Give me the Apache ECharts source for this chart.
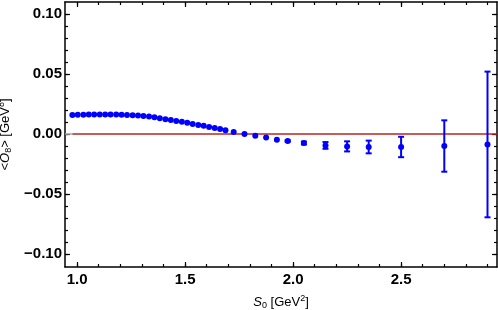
<!DOCTYPE html>
<html>
<head>
<meta charset="utf-8">
<script src="https://cdn.jsdelivr.net/npm/echarts@6/dist/echarts.min.js"></script>
<style>html,body{margin:0;padding:0;background:#fff;}#c{width:498px;height:310px;}</style>
</head>
<body>
<div id="c"></div>
<script>
// S0 values [GeV^2]
const sVals = [0.978,1.003,1.029,1.054,1.079,1.105,1.130,1.155,1.181,1.206,1.231,1.257,1.282,1.307,1.333,1.358,1.383,1.409,1.434,1.459,1.485,1.510,1.535,1.561,1.586,1.611,1.637,1.662,1.687,1.725,1.775,1.825,1.875,1.925,1.975,2.05,2.15,2.25,2.35,2.5,2.7,2.9];
// <O8> values [GeV^8]
const oVals = [0.0158,0.0160,0.0161,0.0162,0.0163,0.0163,0.0163,0.0163,0.0162,0.0161,0.0159,0.0157,0.0154,0.0151,0.0147,0.0140,0.0132,0.0124,0.0117,0.0109,0.0102,0.0093,0.0084,0.0076,0.0068,0.0059,0.0050,0.0041,0.0031,0.0017,0.0000,-0.0015,-0.0030,-0.0048,-0.0058,-0.0075,-0.0095,-0.0103,-0.0108,-0.0108,-0.0100,-0.0087];
// symmetric errors
const oErr = [0,0,0,0,0,0,0,0,0,0,0,0,0,0,0,0,0,0,0,0,0,0,0,0,0,0,0,0,0,0,0,0,0,0,0.0006,0.0012,0.0028,0.0042,0.0053,0.0085,0.0214,0.0607];
const xMajor = [1.0,1.5,2.0,2.5];
const xMinor = [1.0,1.1,1.2,1.3,1.4,1.5,1.6,1.7,1.8,1.9,2.0,2.1,2.2,2.3,2.4,2.5,2.6,2.7,2.8,2.9];
const yMajor = [-0.10,-0.05,0.00,0.05,0.10];
const yMinor = [-0.10,-0.09,-0.08,-0.07,-0.06,-0.05,-0.04,-0.03,-0.02,-0.01,0.00,0.01,0.02,0.03,0.04,0.05,0.06,0.07,0.08,0.09,0.10];
const xRange = [0.944, 2.944];
const yRange = [-0.1108, 0.11];
const refStart = 0.978;

const chart = echarts.init(document.getElementById('c'));
const FONT = '"Liberation Sans", Arial, sans-serif';
const fmtX = v => v.toFixed(1);
const fmtY = v => (Math.abs(v) < 1e-9 ? '0.00' : (v < 0 ? '\u2212' + Math.abs(v).toFixed(2) : v.toFixed(2)));
const richName = {
  it: { fontSize: 13, fontStyle: 'italic', fontFamily: FONT },
  sub: { fontSize: 9, verticalAlign: 'bottom', padding: [7,0,0,0], fontFamily: FONT },
  sup: { fontSize: 9, verticalAlign: 'top', padding: [0,0,6,0], fontFamily: FONT }
};

function xAx(pos, major, showLabel, name) {
  return {
    type: 'value', position: pos, min: xRange[0], max: xRange[1],
    axisLine: { show: major, onZero: false, lineStyle: { color: '#000', width: 1.5 } },
    axisTick: { show: true, inside: true, length: major ? 5 : 3, customValues: major ? xMajor : xMinor, lineStyle: { color: '#000', width: 1.2 } },
    axisLabel: { show: showLabel, customValues: xMajor, formatter: fmtX, color: '#000', fontFamily: FONT, fontWeight: 'bold', fontSize: 15, margin: 5 },
    splitLine: { show: false },
    name: name || '', nameLocation: 'middle', nameGap: 27,
    nameTextStyle: name ? { color: '#000', fontFamily: FONT, fontSize: 13, rich: richName } : {}
  };
}
function yAx(pos, major, showLabel, name) {
  return {
    type: 'value', position: pos, min: yRange[0], max: yRange[1],
    axisLine: { show: major, onZero: false, lineStyle: { color: '#000', width: 1.5 } },
    axisTick: { show: true, inside: true, length: major ? 5 : 3, customValues: major ? yMajor : yMinor, lineStyle: { color: '#000', width: 1.2 } },
    axisLabel: { show: showLabel, customValues: yMajor, formatter: fmtY, color: '#000', fontFamily: FONT, fontWeight: 'bold', fontSize: 15, margin: 3 },
    splitLine: { show: false },
    name: name || '', nameLocation: 'middle', nameGap: 47, nameRotate: 90,
    nameTextStyle: name ? { color: '#000', fontFamily: FONT, fontSize: 13, rich: richName } : {}
  };
}

const pts = sVals.map((s, i) => [s, oVals[i]]);
const errData = sVals.map((s, i) => [s, oVals[i] - oErr[i], oVals[i] + oErr[i]]).filter((d, i) => oErr[i] > 0);

chart.setOption({
  animation: false,
  grid: { left: 65, right: 1, top: 2, bottom: 43, containLabel: false, outerBoundsMode: 'none' },
  xAxis: [
    xAx('bottom', true, true, '{it|S}{sub|0} [GeV{sup|2}]'),
    xAx('bottom', false, false),
    xAx('top', true, false),
    xAx('top', false, false)
  ],
  yAxis: [
    yAx('left', true, true, '<{it|O}{sub|8}> [GeV{sup|8}]'),
    yAx('left', false, false),
    yAx('right', true, false),
    yAx('right', false, false)
  ],
  series: [
    { type: 'line', data: [[xRange[0], 0], [refStart, 0]], symbol: 'none', lineStyle: { color: '#aaaaaa', width: 1.5 }, silent: true, z: 1 },
    { type: 'line', data: [[refStart, 0], [xRange[1], 0]], symbol: 'none', lineStyle: { color: '#b82525', width: 1.5 }, silent: true, z: 1 },
    {
      type: 'custom', data: errData, z: 3,
      renderItem: function (params, api) {
        const lo = api.coord([api.value(0), api.value(1)]);
        const hi = api.coord([api.value(0), api.value(2)]);
        const w = 3;
        const st = { stroke: '#0000ff', lineWidth: 2 };
        return { type: 'group', children: [
          { type: 'line', shape: { x1: lo[0], y1: lo[1], x2: hi[0], y2: hi[1] }, style: st },
          { type: 'line', shape: { x1: lo[0] - w, y1: lo[1], x2: lo[0] + w, y2: lo[1] }, style: st },
          { type: 'line', shape: { x1: hi[0] - w, y1: hi[1], x2: hi[0] + w, y2: hi[1] }, style: st }
        ]};
      }
    },
    { type: 'scatter', data: pts, symbol: 'circle', symbolSize: 6, itemStyle: { color: '#0000ff', opacity: 1 }, z: 4 }
  ]
});
</script>
</body>
</html>
